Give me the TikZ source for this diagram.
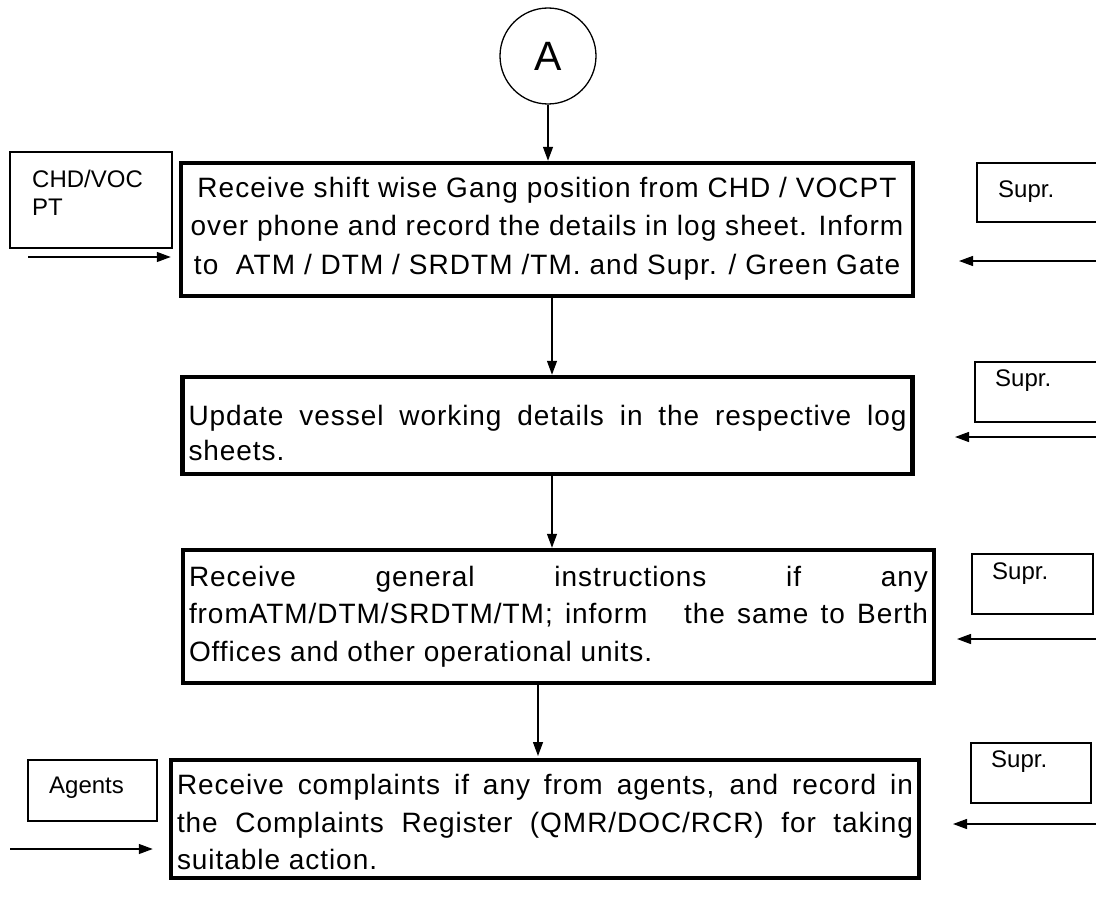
\documentclass[tikz,border=0pt]{standalone}
\usepackage{fontspec}
\setmainfont{Liberation Sans}
\newfontfamily\spacedfont[LetterSpace=3.8]{Liberation Sans}
\newfontfamily\boxfont[LetterSpace=3.4]{Liberation Sans}
\usetikzlibrary{arrows.meta}
\tikzset{
  mainbox/.style={draw, line width=4.5pt, inner xsep=6pt, inner ysep=0pt},
  sidebox/.style={draw, line width=1.2pt},
  sidetext/.style={font=\fontsize{24}{28}\selectfont, inner sep=0pt},
  arr/.style={line width=1.3pt, -{Triangle[length=14pt,width=10pt]}},
}
\begin{document}
\begin{tikzpicture}[x=1pt,y=-1pt]
\clip (0,0) rectangle (1096,899);
\fill[white] (0,0) rectangle (1096,899);

% circle connector
\node[draw, circle, line width=1.3pt, minimum size=96pt, inner sep=0pt,
      font=\fontsize{41}{41}\selectfont] (A) at (548,56) {A};

% main boxes
\node[mainbox, minimum width=732pt, minimum height=133pt, align=center, text depth=8pt,
      font=\spacedfont\fontsize{28}{38.5}\selectfont] (b1) at (547,229.5)
 {Receive shift wise Gang position from CHD / VOCPT\\
  over phone and record the details in log sheet. Inform\\
  to\ \ ATM / DTM / SRDTM /TM. and Supr. / Green Gate};

\node[mainbox, text width=718pt, minimum height=97pt, align=justify, text depth=21pt,
      font=\boxfont\fontsize{28}{35}\selectfont] (b2) at (547.5,425.5)
 {Update vessel working details in the respective log\linebreak sheets.};

\node[mainbox, text width=739pt, minimum height=133pt, align=justify,
      font=\boxfont\fontsize{28}{37.5}\selectfont] (b3) at (558.5,616.5)
 {Receive general instructions if any\linebreak fromATM/DTM/SRDTM/TM; inform\ \ \ the same to Berth\linebreak Offices and other operational units.};

\node[mainbox, text width=736pt, minimum height=118pt, align=justify, text height=27pt,
      font=\boxfont\fontsize{28}{37.5}\selectfont] (b4) at (545,819)
 {Receive complaints if any from agents, and record in\linebreak the Complaints Register (QMR/DOC/RCR) for taking\linebreak suitable action.};

% flow arrows
\draw[arr] (A.south) -- (A.south |- b1.north);
\draw[arr] ([xshift=5pt]b1.south) -- ([xshift=5pt]b1.south |- b2.north);
\draw[arr] ([xshift=4.5pt]b2.south) -- ([xshift=4.5pt]b2.south |- b3.north);
\draw[arr] ([xshift=-20.5pt]b3.south) -- ([xshift=-7pt]b4.north |- 0,756);

% left side boxes
\node[sidebox, minimum width=162pt, minimum height=96pt] (chd) at (91,200) {};
\node[sidetext, anchor=base west, align=left] (chdt) at (32,215) {CHD/VOC\\PT};
\coordinate (chdin) at (28,257);
\draw[arr] (chdin) -- ([xshift=-8pt]chdin -| b1.west);

\node[sidebox, minimum width=129pt, minimum height=61pt] (ag) at (92.5,790.5) {};
\node[sidetext, anchor=base west] (agt) at (49,793) {Agents};
\coordinate (agin) at (10,849);
\draw[arr] (agin) -- ([xshift=-16pt]agin -| b4.west);

% right side boxes
\node[sidebox, minimum width=130pt, minimum height=59pt] (s1) at (1042,192.5) {};
\node[sidetext, anchor=base west] (s1t) at (998,197) {Supr.};
\coordinate (s1in) at (1100,261);
\draw[arr] (s1in) -- (959,261);

\node[sidebox, minimum width=130pt, minimum height=60pt] (s2) at (1040,392) {};
\node[sidetext, anchor=base west] (s2t) at (995,386) {Supr.};
\coordinate (s2in) at (1100,437);
\draw[arr] (s2in) -- (955,437);

\node[sidebox, minimum width=121pt, minimum height=60pt] (s3) at (1032.5,584) {};
\node[sidetext, anchor=base west] (s3t) at (992,579) {Supr.};
\coordinate (s3in) at (1100,639);
\draw[arr] (s3in) -- (957,639);

\node[sidebox, minimum width=120pt, minimum height=60pt] (s4) at (1031,773) {};
\node[sidetext, anchor=base west] (s4t) at (991,767) {Supr.};
\coordinate (s4in) at (1100,824);
\draw[arr] (s4in) -- (953,824);
\end{tikzpicture}
\end{document}
